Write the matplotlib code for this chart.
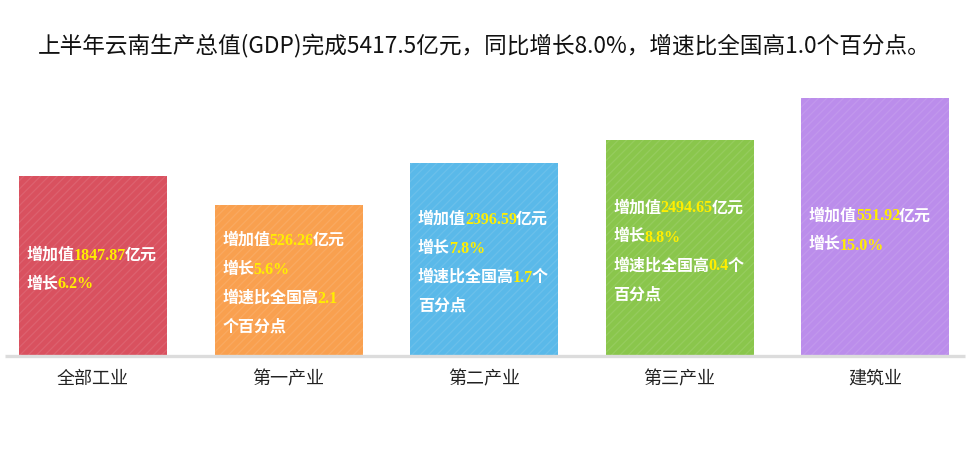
import matplotlib
matplotlib.use('Agg')
import matplotlib.pyplot as plt
import matplotlib.colors as mcolors
import numpy as np

plt.rcParams['font.family'] = ['Noto Sans CJK SC', 'DejaVu Sans']
plt.rcParams['hatch.linewidth'] = 0.9

title = '上半年云南生产总值(GDP)完成5417.5亿元，同比增长8.0%，增速比全国高1.0个百分点。'
categories = ['全部工业', '第一产业', '第二产业', '第三产业', '建筑业']
bar_heights = [180, 151, 193, 216, 258]
added_value = ['1847.87', '526.26', '2396.59', '2494.65', '551.92']
growth = ['6.2%', '5.6%', '7.8%', '8.8%', '15.0%']
above_national = [None, '2.1', '1.7', '0.4', None]
keep_ge = [None, False, True, True, None]   # '个' stays on line 3?
colors = ['#d9515f', '#f9a04f', '#5ab9e9', '#8ac64c', '#bb8deb']

white = '#ffffff'
yellow = '#ffee00'
inner_font = ['Liberation Serif', 'Noto Sans CJK SC']


def build_lines(i):
    lines = [[('增加值', white), (added_value[i], yellow), ('亿元', white)],
             [('增长', white), (growth[i], yellow)]]
    if above_national[i] is not None:
        l3 = [('增速比全国高', white), (above_national[i], yellow)]
        if keep_ge[i]:
            l3.append(('个', white))
            lines += [l3, [('百分点', white)]]
        else:
            lines += [l3, [('个百分点', white)]]
    return lines


fig = plt.figure(figsize=(9.68, 4.62), dpi=100)
W, H = 968, 462
base_px = 356
top_px = 80
ax = fig.add_axes([0, (H - base_px) / H, 1, (base_px - top_px) / H])
spacing = 195.5
c0 = 93
ax.set_xlim(-c0 / spacing, (W - c0) / spacing)
ax.set_ylim(0, base_px - top_px)
ax.axis('off')

x = np.arange(len(categories))
bw = 148 / spacing
for i in x:
    fc = mcolors.to_rgb(colors[i])
    hc = tuple(0.9 * c + 0.1 for c in fc)
    ax.bar(i, bar_heights[i], width=bw, color=colors[i], edgecolor=hc,
           linewidth=0, hatch='////', zorder=2)

ax.plot([(5 - c0) / spacing, (965 - c0) / spacing], [0, 0],
        color='#dcdcdc', lw=2.4, solid_capstyle='butt', zorder=3,
        clip_on=False)

line_gap = 29
for i in x:
    lines = build_lines(i)
    n = len(lines)
    center = bar_heights[i] / 2 - 4
    y0 = center + (n - 1) * line_gap / 2
    xl = i - bw / 2 + 8 / spacing
    for k, segs in enumerate(lines):
        y = y0 - k * line_gap
        prev = None
        for s, col in segs:
            if prev is None:
                prev = ax.text(xl, y, s, color=col, fontsize=11.5,
                               fontweight='bold', family=inner_font,
                               ha='left', va='center', zorder=4)
            else:
                prev = ax.annotate(s, xy=(1, 0), xycoords=prev,
                                   xytext=(-0.8, 0),
                                   textcoords='offset points',
                                   color=col, fontsize=11.5,
                                   fontweight='bold', family=inner_font,
                                   ha='left', va='bottom', zorder=4)

for i, c in enumerate(categories):
    fig.text((c0 + spacing * i) / W, 1 - 379 / H, c, fontsize=13,
             color='#222222', ha='center', va='center')

fig.text(0.5, 1 - 46 / H, title, fontsize=16.3, color='#111111',
         ha='center', va='center')

fig.savefig('out.png', dpi=100)
